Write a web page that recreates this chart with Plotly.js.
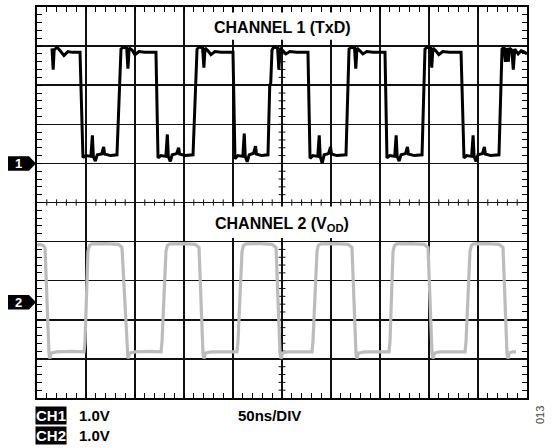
<!DOCTYPE html>
<html>
<head>
<meta charset="utf-8">
<script src="https://cdn.plot.ly/plotly-3.0.1.min.js"></script>
<style>html,body{margin:0;padding:0;background:#fff;}#chart{width:556px;height:448px;}</style>
</head>
<body>
<div id="chart"></div>
<script>
// ---- Data (time in ns, amplitude in volts) ----
const ch1Time = [
  15.3, 16.5, 17.5, 20.5, 23, 27.5, 31.5, 36, 43.9,
  46.9, 50, 55, 56.5, 57.5, 59.5, 61.5, 66, 68, 69, 75, 81.6,
  85.7, 87.7, 91.5, 92.8, 94, 97, 100, 104, 110, 121.4,
  123.5, 126.5, 131.5, 133, 134, 136, 138, 142.5, 144.5, 145.5, 151, 159.2,
  163.3, 165.3, 169, 170.3, 171.5, 174.5, 177.5, 181.5, 188, 200.0,
  202.0, 205, 210, 211.5, 212.5, 214.5, 216.5, 221, 223, 224, 229, 235.7,
  237.5, 238.5, 239.8, 241.8, 245.5, 246.8, 248, 251, 254, 258, 265, 276.5,
  278.6, 281.5, 286.5, 288, 289, 291, 293, 297.5, 299.5, 300.5, 306, 315.3,
  318.4, 320.4, 324, 325.3, 326.5, 329.5, 332.5, 336.5, 343, 355.1,
  357.1, 360, 365, 366.5, 367.5, 369.5, 371.5, 376, 378, 379, 385, 392.9,
  395.9, 397.9, 401.5, 402.8, 404, 407, 410, 414, 421, 432.7,
  435.7, 438.5, 443.5, 445, 446, 448, 450, 454.5, 456.5, 457.5, 463, 471.4,
  474.5, 476.5, 478, 479, 481, 482, 484.5, 486, 487.5, 491, 494, 497, 500
];
const ch1Volt = [
  2.94, 2.40, 2.90, 2.97, 2.90, 2.76, 2.86, 2.84, 2.84,
  0.15, 0.20, 0.18, 0.72, 0.18, 0.06, 0.22, 0.24, 0.42, 0.24, 0.20, 0.22,
  2.92, 2.97, 2.95, 2.42, 2.95, 2.90, 2.78, 2.86, 2.84, 2.84,
  0.14, 0.20, 0.18, 0.74, 0.18, 0.05, 0.22, 0.25, 0.40, 0.24, 0.20, 0.22,
  2.92, 2.98, 2.95, 2.45, 2.95, 2.88, 2.78, 2.86, 2.84, 2.84,
  0.12, 0.20, 0.18, 0.76, 0.18, 0.04, 0.22, 0.26, 0.44, 0.24, 0.20, 0.22,
  2.00, 2.05, 2.90, 2.98, 2.95, 2.40, 2.95, 2.88, 2.80, 2.86, 2.84, 2.84,
  0.13, 0.20, 0.18, 0.72, 0.18, 0.00, 0.22, 0.25, 0.42, 0.24, 0.20, 0.22,
  2.92, 2.97, 2.95, 2.42, 2.95, 2.88, 2.80, 2.86, 2.84, 2.84,
  0.14, 0.20, 0.18, 0.72, 0.18, 0.06, 0.22, 0.25, 0.42, 0.24, 0.20, 0.22,
  2.92, 2.97, 2.95, 2.45, 2.95, 2.88, 2.78, 2.86, 2.84, 2.84,
  0.14, 0.20, 0.18, 0.72, 0.18, 0.05, 0.22, 0.25, 0.42, 0.24, 0.20, 0.22,
  2.92, 2.97, 2.60, 2.95, 2.60, 2.95, 2.90, 2.40, 2.92, 2.80, 2.88, 2.85, 2.80
];
const ch2Time = [
  0, 3, 6.5, 8.2, 12.2, 13, 14.5, 20, 35, 48,
  49.0, 52.0, 53.5, 56, 70, 83, 86.7, 91.8, 92.8, 94.5, 100, 115, 126.6,
  127.6, 131.6, 133, 135.5, 150, 161.5, 165.3, 169.4, 170.4, 172, 178, 192, 204.1,
  205.1, 209.2, 210.7, 213, 228, 240, 243.9, 248.0, 249, 250.5, 256, 270, 280.6,
  281.6, 285.7, 287, 289.5, 305, 317.5, 321.4, 325.5, 326.5, 328, 334, 348, 359.2,
  360.2, 363.3, 364.8, 367, 382, 395, 399.0, 403.1, 404.1, 405.6, 411, 425, 436.8,
  437.8, 441.8, 443.3, 445.5, 460, 471.5, 475.5, 479.6, 480.6, 482, 485, 488.8
];
const ch2Volt = [
  1.46, 1.48, 1.45, 1.38, -1.30, -1.44, -1.30, -1.27, -1.26, -1.27,
  -1.00, 1.30, 1.45, 1.49, 1.50, 1.48, 1.40, -1.32, -1.44, -1.30, -1.27, -1.26, -1.27,
  -1.00, 1.30, 1.45, 1.49, 1.50, 1.48, 1.40, -1.32, -1.44, -1.30, -1.27, -1.26, -1.27,
  -1.00, 1.30, 1.45, 1.49, 1.50, 1.48, 1.40, -1.32, -1.44, -1.30, -1.27, -1.26, -1.27,
  -1.00, 1.30, 1.45, 1.49, 1.50, 1.48, 1.40, -1.32, -1.44, -1.30, -1.27, -1.26, -1.27,
  -1.00, 1.30, 1.45, 1.49, 1.50, 1.48, 1.40, -1.32, -1.44, -1.30, -1.27, -1.26, -1.27,
  -1.00, 1.30, 1.45, 1.49, 1.50, 1.48, 1.40, -1.32, -1.44, -1.30, -1.27, -1.27
];
const channelTitles = ["CHANNEL 1 (TxD)", "CHANNEL 2 (V<sub>OD</sub>)"];
const channelNumbers = ["1", "2"];
const scaleLabels = ["CH1", "1.0V", "CH2", "1.0V", "50ns/DIV"];
const figureId = "013";

// ---- Display settings ----
const VOLTS_PER_DIV = 1.0, NS_PER_DIV = 50;
const CH1_GROUND = 6.0, CH2_GROUND = 2.45;   // in divisions
const FONT = "Liberation Sans, Arial, Helvetica, sans-serif";

const toDiv = (arr, g) => arr.map(v => g + v / VOLTS_PER_DIV);

const traces = [
  {x: ch2Time, y: toDiv(ch2Volt, CH2_GROUND), mode: "lines", line: {color: "#bcbcbc", width: 3.2}, hoverinfo: "skip"},
  {x: ch1Time, y: toDiv(ch1Volt, CH1_GROUND), mode: "lines", line: {color: "#000", width: 3}, hoverinfo: "skip"}
];

const shapes = [];
// centre-line minor ticks
for (let i = 1; i < 50; i++) {
  const t = i * NS_PER_DIV / 5;
  shapes.push({type: "line", xref: "x", yref: "y", x0: t, x1: t, y0: 4.92, y1: 5.08, line: {color: "#111", width: 1}, layer: "between"});
  const d = i * 0.2;
  shapes.push({type: "line", xref: "x", yref: "y", x0: 246.5, x1: 253.5, y0: d, y1: d, line: {color: "#111", width: 1}, layer: "between"});
}
// white boxes behind the channel titles
shapes.push({type: "rect", xref: "x", yref: "y", x0: 161, x1: 339, y0: 9.16, y1: 9.86, fillcolor: "#fff", line: {width: 0}, layer: "between"});
shapes.push({type: "rect", xref: "x", yref: "y", x0: 161, x1: 339, y0: 4.09, y1: 4.9, fillcolor: "#fff", line: {width: 0}, layer: "between"});
// channel ground markers (pentagon arrows)
function marker(g) {
  const h = 0.185;
  const x0 = (8 - 37) / 490, x1 = (29 - 37) / 490, x2 = (36 - 37) / 490;
  return {type: "path", xref: "paper", yref: "y",
    path: `M ${x0} ${g - h} L ${x1} ${g - h} L ${x2} ${g} L ${x1} ${g + h} L ${x0} ${g + h} Z`,
    fillcolor: "#000", line: {width: 0}, layer: "below"};
}
shapes.push(marker(CH1_GROUND), marker(CH2_GROUND));

const px = v => (v - 37) / 490, py = v => (398 - v) / 391;
const annotations = [
  {text: "<b>" + channelTitles[0] + "</b>", x: 250, y: 9.47, xref: "x", yref: "y", showarrow: false, font: {family: FONT, size: 16, color: "#000"}},
  {text: "<b>" + channelTitles[1] + "</b>", x: 250, y: 4.44, xref: "x", yref: "y", showarrow: false, font: {family: FONT, size: 16, color: "#000"}},
  {text: "<b>" + channelNumbers[0] + "</b>", x: px(18.5), y: CH1_GROUND, xref: "paper", yref: "y", xanchor: "center", yanchor: "middle", showarrow: false, font: {family: FONT, size: 13, color: "#fff"}},
  {text: "<b>" + channelNumbers[1] + "</b>", x: px(18.5), y: CH2_GROUND, xref: "paper", yref: "y", xanchor: "center", yanchor: "middle", showarrow: false, font: {family: FONT, size: 13, color: "#fff"}},
  {text: "<b>" + scaleLabels[0] + "</b>", x: px(35), y: py(416), xref: "paper", yref: "paper", xanchor: "left", yanchor: "middle", showarrow: false, bgcolor: "#000", borderpad: 0, font: {family: FONT, size: 15, color: "#fff"}},
  {text: "<b>" + scaleLabels[1] + "</b>", x: px(77), y: py(416), xref: "paper", yref: "paper", xanchor: "left", yanchor: "middle", showarrow: false, font: {family: FONT, size: 15, color: "#000"}},
  {text: "<b>" + scaleLabels[2] + "</b>", x: px(35), y: py(435), xref: "paper", yref: "paper", xanchor: "left", yanchor: "middle", showarrow: false, bgcolor: "#000", borderpad: 0, font: {family: FONT, size: 15, color: "#fff"}},
  {text: "<b>" + scaleLabels[3] + "</b>", x: px(77), y: py(435), xref: "paper", yref: "paper", xanchor: "left", yanchor: "middle", showarrow: false, font: {family: FONT, size: 15, color: "#000"}},
  {text: "<b>" + scaleLabels[4] + "</b>", x: px(236), y: py(416), xref: "paper", yref: "paper", xanchor: "left", yanchor: "middle", showarrow: false, font: {family: FONT, size: 15, color: "#000"}},
  {text: figureId, x: px(548), y: py(426), xref: "paper", yref: "paper", showarrow: false, textangle: -90, font: {family: FONT, size: 11, color: "#444"}}
];

const axisCommon = {
  showgrid: true, gridcolor: "#111", gridwidth: 1.5, zeroline: false,
  showline: true, linecolor: "#000", linewidth: 2, mirror: "ticks",
  ticks: "inside", ticklen: 5, tickwidth: 1, tickcolor: "#000", showticklabels: false, fixedrange: true
};
const layout = {
  width: 556, height: 448,
  margin: {l: 37, r: 29, t: 7, b: 50},
  paper_bgcolor: "#fff", plot_bgcolor: "#fff", showlegend: false,
  xaxis: Object.assign({}, axisCommon, {range: [0, 10 * NS_PER_DIV], dtick: NS_PER_DIV, tick0: 0,
    minor: {dtick: NS_PER_DIV / 5, ticks: "inside", ticklen: 5, tickwidth: 1, tickcolor: "#000", showgrid: false}}),
  yaxis: Object.assign({}, axisCommon, {range: [0, 10], dtick: 1, tick0: 0,
    minor: {dtick: 0.2, ticks: "inside", ticklen: 5, tickwidth: 1, tickcolor: "#000", showgrid: false}}),
  shapes: shapes, annotations: annotations
};
Plotly.newPlot("chart", traces, layout, {staticPlot: true, displayModeBar: false});
</script>
</body>
</html>
